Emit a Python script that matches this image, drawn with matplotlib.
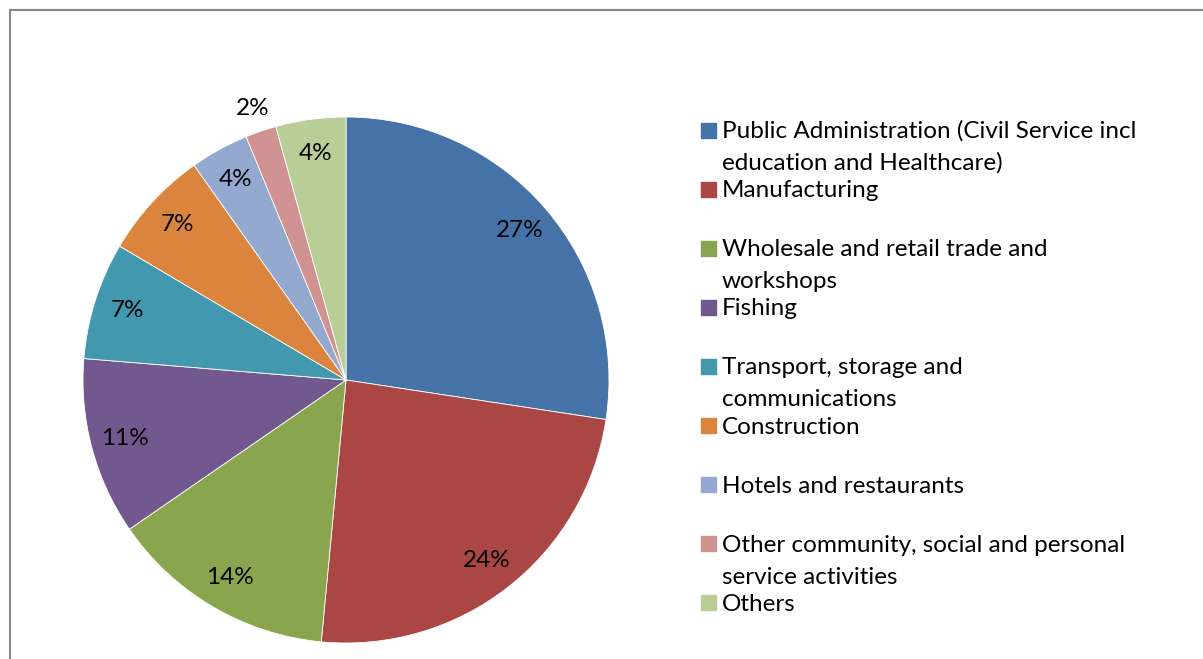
import matplotlib.pyplot as plt
from matplotlib.lines import Line2D
from matplotlib.patches import Rectangle

# sectors, share of employment (%)
sectors = [
    "Public Administration (Civil Service incl\neducation and Healthcare)",
    "Manufacturing",
    "Wholesale and retail trade and\nworkshops",
    "Fishing",
    "Transport, storage and\ncommunications",
    "Construction",
    "Hotels and restaurants",
    "Other community, social and personal\nservice activities",
    "Others",
]
shares = [27.4, 24.1, 13.9, 10.9, 7.2, 6.7, 3.6, 1.9, 4.3]
colors = ["#4572A7", "#AA4643", "#89A54E", "#71588F", "#4198AF",
          "#DB843D", "#93A9CF", "#D19392", "#B9CD96"]

W, H = 1203, 659
plt.rcParams['font.family'] = ['Lato', 'DejaVu Sans']
fs = 17.5

fig = plt.figure(figsize=(W / 100, H / 100), dpi=100)

# pie centre (346, 380) px, radius 263 px
cx, cy, r = 346, 380, 263
ax = fig.add_axes([(cx - r) / W, (H - cy - r) / H, 2 * r / W, 2 * r / H])
wedges, texts, autotexts = ax.pie(
    shares, colors=colors, startangle=90, counterclock=False,
    autopct='%.0f%%', pctdistance=0.87,
    wedgeprops=dict(edgecolor='white', linewidth=0.6),
    textprops=dict(fontsize=fs, color='black'))
ax.set_xlim(-1, 1)
ax.set_ylim(-1, 1)
ax.set_aspect('equal')

# the small 2% slice has its label pushed outside
x, y = autotexts[7].get_position()
autotexts[7].set_position((x * 1.09 / 0.87, y * 1.09 / 0.87))

# legend drawn by hand to keep the Excel spacing
lx, step, top = 722, 59.1, 130
for i, (name, c) in enumerate(zip(sectors, colors)):
    yc = top + step * i
    fig.patches.append(Rectangle((701 / W, 1 - (yc + 7.5) / H), 15 / W, 15 / H,
                                 transform=fig.transFigure, color=c))
    for j, line in enumerate(name.split("\n")):
        fig.text(lx / W, 1 - (yc + 8 + 32 * j) / H, line, fontsize=fs,
                 ha='left', va='baseline')

# chart frame (only top and left edges visible)
fig.lines.append(Line2D([9.5 / W, 9.5 / W], [0, 1 - 9.5 / H],
                        transform=fig.transFigure, color='#868686', lw=1.5))
fig.lines.append(Line2D([9.5 / W, 1], [1 - 9.5 / H, 1 - 9.5 / H],
                        transform=fig.transFigure, color='#868686', lw=1.5))

fig.savefig('out.png', dpi=100)
